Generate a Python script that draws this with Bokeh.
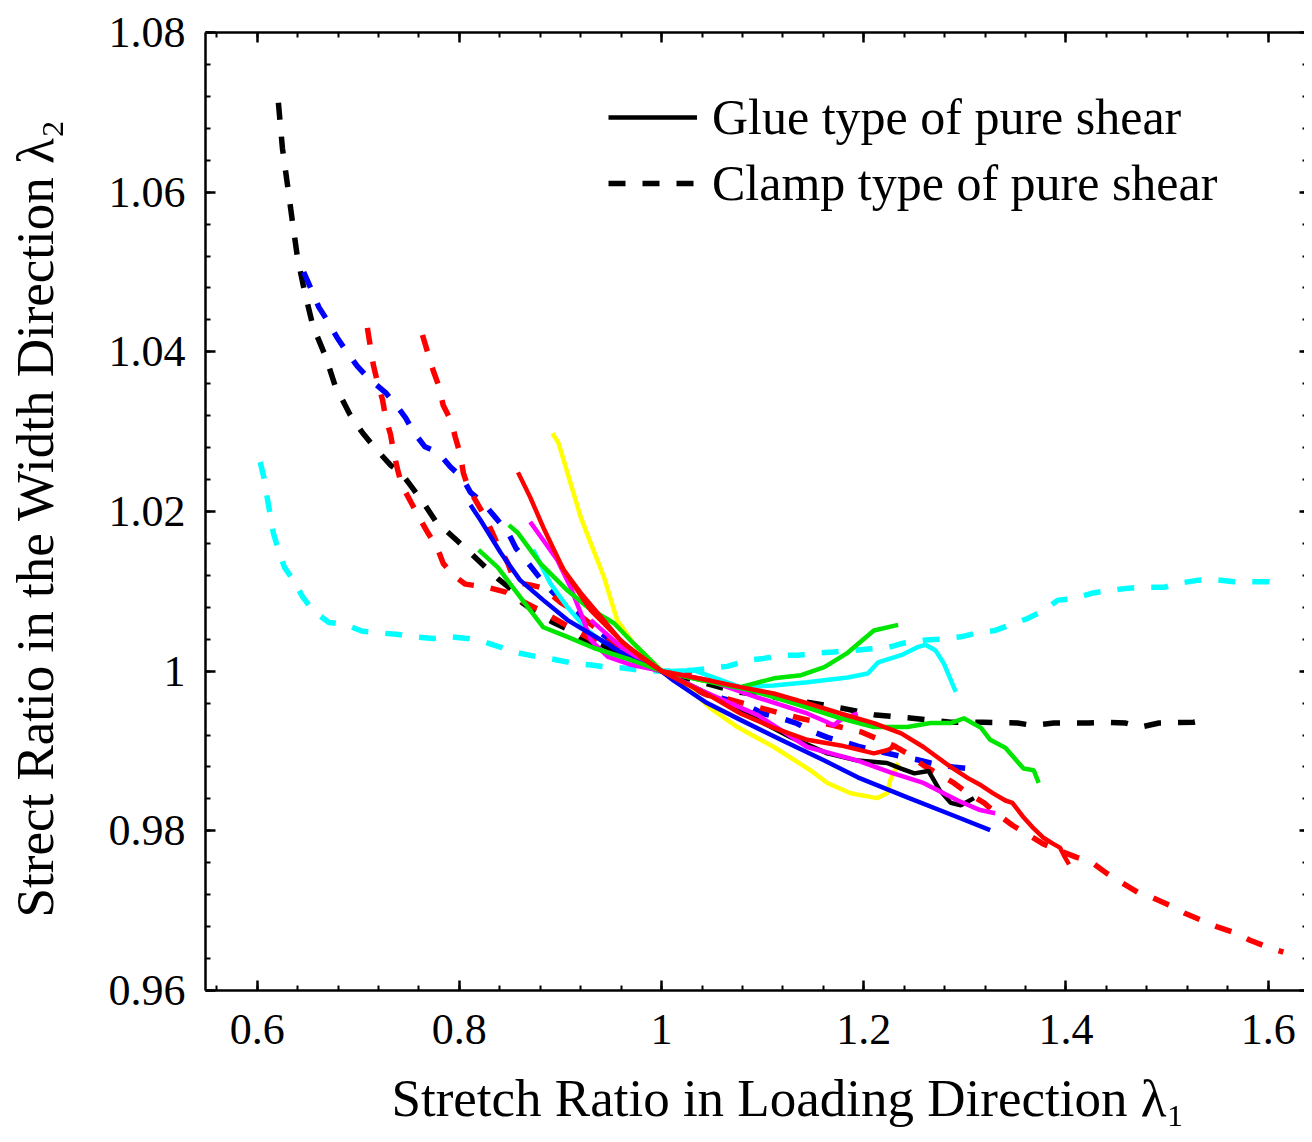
from bokeh.plotting import figure
from bokeh.models import (Range1d, LinearAxis, FixedTicker, CustomJSTickFormatter,
                          Legend, LegendItem)
from bokeh.embed import file_html
from bokeh.resources import INLINE

FONT = "Liberation Serif"

# ---------------- axis ticks ----------------
x_major = [0.6, 0.8, 1.0, 1.2, 1.4, 1.6]
x_minor = [round(0.56 + 0.04 * i, 2) for i in range(28)]
y_major = [0.96, 0.98, 1.0, 1.02, 1.04, 1.06, 1.08]
y_minor = [round(0.96 + 0.004 * i, 3) for i in range(31)]

# ---------------- clamp type (dashed) ----------------
clamp_black_x = [0.621,0.625,0.630,0.635,0.640,0.647,0.655,0.668,0.677,0.692,0.704,0.717,0.732,0.742,0.755,0.765,0.777,0.786,0.799,0.811,0.826,0.838,0.853,0.862,0.882,0.893,0.910,0.923,0.940,0.970,1.000,1.043,1.075,1.088,1.144,1.177,1.212,1.248,1.286,1.318,1.352,1.368,1.388,1.422,1.439,1.459,1.474,1.492,1.526,1.540]
clamp_black_y = [1.0712,1.0655,1.0609,1.0562,1.0517,1.0475,1.0433,1.0393,1.0358,1.0321,1.0299,1.0279,1.0258,1.0249,1.0227,1.0210,1.0187,1.0177,1.0162,1.0148,1.0130,1.0116,1.0101,1.0086,1.0068,1.0061,1.0051,1.0039,1.0029,1.0014,1.0000,0.9985,0.9974,0.9972,0.9961,0.9954,0.9945,0.9941,0.9936,0.9936,0.9935,0.9932,0.9935,0.9935,0.9936,0.9935,0.9930,0.9935,0.9936,0.9939]

clamp_blue_x = [0.646,0.654,0.661,0.670,0.679,0.688,0.699,0.710,0.727,0.740,0.747,0.755,0.766,0.779,0.791,0.803,0.811,0.824,0.836,0.848,0.856,0.867,0.885,0.905,0.930,0.959,1.000,1.045,1.060,1.085,1.100,1.118,1.133,1.150,1.164,1.184,1.197,1.217,1.231,1.253,1.266,1.288,1.303]
clamp_blue_y = [1.0500,1.0477,1.0456,1.0438,1.0418,1.0401,1.0382,1.0367,1.0349,1.0329,1.0317,1.0299,1.0281,1.0274,1.0256,1.0242,1.0224,1.0210,1.0192,1.0174,1.0154,1.0137,1.0108,1.0083,1.0058,1.0029,1.0000,0.9970,0.9966,0.9957,0.9947,0.9941,0.9935,0.9924,0.9917,0.9910,0.9905,0.9899,0.9895,0.9889,0.9885,0.9880,0.9878]

clamp_red_a_x = [0.709,0.712,0.715,0.719,0.724,0.727,0.732,0.735,0.739,0.743,0.752,0.760,0.769,0.778,0.784,0.794,0.806,0.828,0.846,0.857,0.880,0.905,0.940,0.970,1.000,1.024,1.049]
clamp_red_a_y = [1.0430,1.0406,1.0383,1.0362,1.0340,1.0318,1.0296,1.0274,1.0252,1.0233,1.0212,1.0193,1.0173,1.0155,1.0135,1.0120,1.0109,1.0105,1.0099,1.0091,1.0076,1.0058,1.0033,1.0014,1.0000,0.9997,0.9992]

clamp_red_b_x = [0.7635,0.769,0.774,0.780,0.784,0.792,0.796,0.801,0.804,0.809,0.816,0.826,0.836,0.848,0.853,0.861,0.870,0.883,0.900,0.913,0.940,0.970,1.000,1.045,1.060,1.098,1.137,1.177,1.197,1.212,1.229,1.243,1.259,1.289,1.303,1.319,1.330,1.347,1.360,1.377,1.392,1.410,1.425,1.440,1.454,1.471,1.486,1.502,1.517,1.534,1.549,1.568,1.582,1.600,1.615]
clamp_red_b_y = [1.0421,1.0398,1.0377,1.0356,1.0333,1.0313,1.0293,1.0271,1.0248,1.0229,1.0214,1.0192,1.0164,1.0135,1.0118,1.0110,1.0108,1.0104,1.0086,1.0076,1.0049,1.0020,1.0000,0.9970,0.9967,0.9954,0.9941,0.9930,0.9924,0.9916,0.9907,0.9897,0.9882,0.9860,0.9847,0.9835,0.9823,0.9807,0.9797,0.9784,0.9776,0.9767,0.9761,0.9747,0.9736,0.9723,0.9716,0.9707,0.9697,0.9688,0.9680,0.9672,0.9663,0.9654,0.9648]

clamp_cyan_x = [0.603,0.607,0.610,0.613,0.616,0.621,0.627,0.637,0.645,0.656,0.671,0.686,0.704,0.720,0.740,0.755,0.774,0.791,0.808,0.826,0.843,0.858,0.877,0.893,0.912,0.928,0.946,0.962,0.979,1.000,1.029,1.051,1.065,1.086,1.101,1.121,1.135,1.157,1.170,1.190,1.207,1.225,1.239,1.261,1.276,1.296,1.312,1.330,1.345,1.362,1.378,1.392,1.408,1.427,1.442,1.462,1.477,1.497,1.511,1.531,1.546,1.566,1.583,1.601,1.617]
clamp_cyan_y = [1.0262,1.0241,1.0217,1.0195,1.0173,1.0152,1.0130,1.0112,1.0093,1.0075,1.0061,1.0059,1.0050,1.0048,1.0046,1.0043,1.0041,1.0043,1.0041,1.0036,1.0029,1.0023,1.0018,1.0015,1.0010,1.0008,1.0005,1.0004,1.0001,1.0000,1.0001,1.0004,1.0006,1.0014,1.0016,1.0020,1.0020,1.0023,1.0024,1.0026,1.0028,1.0030,1.0035,1.0039,1.0040,1.0043,1.0048,1.0051,1.0058,1.0066,1.0076,1.0089,1.0091,1.0098,1.0101,1.0104,1.0105,1.0105,1.0110,1.0114,1.0115,1.0112,1.0112,1.0112,1.0105]

# ---------------- glue type (solid) ----------------
glue_yellow_x = [0.892,0.898,0.907,0.920,0.930,0.943,0.956,0.972,0.992,1.000,1.029,1.048,1.075,1.111,1.147,1.164,1.187,1.213,1.223,1.226,1.234]
glue_yellow_y = [1.0298,1.0286,1.0248,1.0193,1.0160,1.0118,1.0064,1.0035,1.0010,1.0000,0.9976,0.9954,0.9930,0.9905,0.9876,0.9860,0.9847,0.9841,0.9847,0.9863,0.9885]

glue_red_a_x = [0.858,0.870,0.883,0.903,0.920,0.940,0.959,0.979,1.000,1.012,1.045,1.078,1.111,1.144,1.177,1.210,1.237,1.259,1.286,1.303,1.316,1.328,1.340,1.347,1.358,1.368,1.378,1.387,1.394,1.398,1.403]
glue_red_a_y = [1.0249,1.0218,1.0180,1.0127,1.0098,1.0068,1.0039,1.0018,1.0000,0.9997,0.9989,0.9980,0.9972,0.9960,0.9947,0.9935,0.9922,0.9905,0.9880,0.9866,0.9857,0.9847,0.9838,0.9835,0.9817,0.9803,0.9791,0.9784,0.9779,0.9769,0.9758]

glue_red_b_x = [0.900,0.930,0.964,1.000,1.051,1.078,1.111,1.144,1.177,1.210,1.223,1.233]
glue_red_b_y = [1.0133,1.0076,1.0033,1.0000,0.9967,0.9947,0.9929,0.9914,0.9907,0.9897,0.9901,0.9907]

glue_magenta_a_x = [0.870,0.883,0.897,0.910,0.920,0.930,0.947,0.970,1.000,1.039,1.095,1.144,1.194,1.227,1.259,1.293,1.315,1.330]
glue_magenta_a_y = [1.0187,1.0164,1.0139,1.0105,1.0073,1.0039,1.0018,1.0008,1.0000,0.9976,0.9945,0.9905,0.9888,0.9873,0.9860,0.9838,0.9826,0.9822]

glue_magenta_b_x = [0.930,0.964,1.000,1.045,1.095,1.144,1.164,1.170,1.177,1.194]
glue_magenta_b_y = [1.0064,1.0026,1.0000,0.9989,0.9967,0.9947,0.9936,0.9932,0.9939,0.9947]

glue_blue_x = [0.811,0.821,0.841,0.860,0.883,0.907,0.940,0.972,1.000,1.012,1.045,1.078,1.118,1.161,1.194,1.243,1.293,1.325]
glue_blue_y = [1.0208,1.0189,1.0148,1.0114,1.0089,1.0064,1.0039,1.0014,1.0000,0.9988,0.9960,0.9939,0.9914,0.9888,0.9867,0.9842,0.9817,0.9801]

glue_green_a_x = [0.849,0.858,0.880,0.907,0.927,0.953,0.972,1.000,1.039,1.078,1.111,1.138,1.161,1.184,1.210,1.234]
glue_green_a_y = [1.0183,1.0173,1.0135,1.0101,1.0080,1.0060,1.0035,1.0000,0.9989,0.9980,0.9991,0.9995,1.0005,1.0023,1.0051,1.0058]

glue_green_b_x = [0.819,0.838,0.860,0.883,0.907,0.933,0.970,1.000,1.039,1.088,1.138,1.177,1.210,1.243,1.266,1.286,1.299,1.316,1.325,1.340,1.358,1.368,1.373]
glue_green_b_y = [1.0152,1.0130,1.0093,1.0055,1.0043,1.0029,1.0014,1.0000,0.9989,0.9976,0.9957,0.9941,0.9930,0.9930,0.9935,0.9935,0.9941,0.9929,0.9914,0.9904,0.9878,0.9876,0.9860]

glue_cyan_x = [0.873,0.890,0.907,0.927,0.959,1.000,1.032,1.078,1.111,1.144,1.184,1.204,1.214,1.237,1.253,1.261,1.271,1.279,1.291]
glue_cyan_y = [1.0152,1.0110,1.0080,1.0051,1.0020,1.0000,1.0001,0.9980,0.9982,0.9986,0.9992,0.9997,1.0011,1.0020,1.0030,1.0033,1.0026,1.0010,0.9974]

glue_black_x = [0.940,0.970,1.000,1.039,1.095,1.128,1.164,1.194,1.223,1.237,1.250,1.264,1.275,1.286,1.296,1.309]
glue_black_y = [1.0033,1.0014,1.0000,0.9976,0.9939,0.9917,0.9897,0.9888,0.9885,0.9878,0.9872,0.9875,0.9851,0.9835,0.9832,0.9841]

legend_labels = ["Glue type of pure shear", "Clamp type of pure shear"]
x_title = "Stretch Ratio in Loading Direction λ₁"
y_title = "Strect Ratio in the Width Direction λ₂"

# ---------------- figure ----------------
p = figure(width=1304, height=1134, output_backend="svg", toolbar_location=None,
           x_range=Range1d(0.5489, 1.6359), y_range=Range1d(0.96, 1.08),
           min_border_left=205, min_border_right=0, min_border_top=32,
           min_border_bottom=144)
p.xgrid.visible = False
p.ygrid.visible = False
p.outline_line_color = None
p.background_fill_color = "white"
p.border_fill_color = "white"

fmt_code = "return tick.toFixed(2).replace(/\\.?0+$/, '');"


def style_axis(ax, show_labels=True, line=True, tick_in=10, minor_in=5):
    ax.axis_line_color = "black" if line else None
    ax.axis_line_width = 2.5
    ax.major_tick_in = tick_in
    ax.major_tick_out = 0
    ax.minor_tick_in = minor_in
    ax.minor_tick_out = 0
    ax.major_tick_line_width = 2.5
    ax.minor_tick_line_width = 2
    ax.major_tick_line_color = "black"
    ax.minor_tick_line_color = "black"
    if show_labels:
        ax.formatter = CustomJSTickFormatter(code=fmt_code)
        ax.major_label_text_font = FONT
        ax.major_label_text_font_size = "44px"
        ax.major_label_text_color = "black"
    else:
        ax.formatter = CustomJSTickFormatter(code="return '';")
        ax.major_label_text_font_size = "1px"
        ax.major_label_standoff = 0
        ax.axis_label_standoff = 0


xt = FixedTicker(ticks=x_major, minor_ticks=x_minor)
yt = FixedTicker(ticks=y_major, minor_ticks=y_minor)

NB = "\u00a0"

xa = p.xaxis[0]
xa.ticker = xt
style_axis(xa)
xa.major_label_standoff = 24
xa.axis_label = NB * 5 + x_title
xa.axis_label_text_font = FONT
xa.axis_label_text_font_size = "53px"
xa.axis_label_text_font_style = "normal"
xa.axis_label_text_color = "black"
xa.axis_label_standoff = 22

ya = p.yaxis[0]
ya.ticker = yt
style_axis(ya)
ya.major_label_standoff = 20
ya.axis_label = y_title + NB
ya.axis_label_text_font = FONT
ya.axis_label_text_font_size = "53px"
ya.axis_label_text_font_style = "normal"
ya.axis_label_text_color = "black"
ya.axis_label_standoff = 42

top = LinearAxis(ticker=FixedTicker(ticks=x_major, minor_ticks=x_minor))
style_axis(top, show_labels=False)
p.add_layout(top, "above")

right = LinearAxis(ticker=FixedTicker(ticks=y_major, minor_ticks=y_minor))
style_axis(right, show_labels=False, line=False, tick_in=5, minor_in=2)
p.add_layout(right, "right")

DASH = "17 17"
DW = 5.5
SW = 4.5

# dashed (clamp)
p.line(clamp_cyan_x, clamp_cyan_y, line_color="#00ffff", line_width=DW, line_dash=DASH)
r_clamp_black = p.line(clamp_black_x, clamp_black_y, line_color="black", line_width=DW, line_dash=DASH)
p.line(clamp_blue_x, clamp_blue_y, line_color="#0000ff", line_width=DW, line_dash=DASH)
p.line(clamp_red_a_x, clamp_red_a_y, line_color="#ff0000", line_width=DW, line_dash=DASH)
p.line(clamp_red_b_x, clamp_red_b_y, line_color="#ff0000", line_width=DW, line_dash=DASH)

# solid (glue)
p.line(glue_cyan_x, glue_cyan_y, line_color="#00ffff", line_width=SW)
p.line(glue_yellow_x, glue_yellow_y, line_color="#ffff00", line_width=SW)
r_glue_black = p.line(glue_black_x, glue_black_y, line_color="black", line_width=SW)
p.line(glue_magenta_a_x, glue_magenta_a_y, line_color="#ff00ff", line_width=SW)
p.line(glue_magenta_b_x, glue_magenta_b_y, line_color="#ff00ff", line_width=SW)
p.line(glue_blue_x, glue_blue_y, line_color="#0000ff", line_width=SW)
p.line(glue_green_b_x, glue_green_b_y, line_color="#00e600", line_width=SW)
p.line(glue_green_a_x, glue_green_a_y, line_color="#00e600", line_width=SW)
p.line(glue_red_b_x, glue_red_b_y, line_color="#ff0000", line_width=SW)
p.line(glue_red_a_x, glue_red_a_y, line_color="#ff0000", line_width=SW)

legend = Legend(items=[LegendItem(label=legend_labels[0], renderers=[r_glue_black]),
                       LegendItem(label=legend_labels[1], renderers=[r_clamp_black])],
                location=(403, 774), orientation="vertical",
                glyph_width=89, glyph_height=66, label_standoff=15,
                spacing=0, padding=0, margin=0,
                label_text_font=FONT, label_text_font_size="50px",
                label_text_color="black",
                border_line_color=None, background_fill_alpha=0)
p.add_layout(legend)

open("out.html", "w").write(file_html(p, INLINE))
